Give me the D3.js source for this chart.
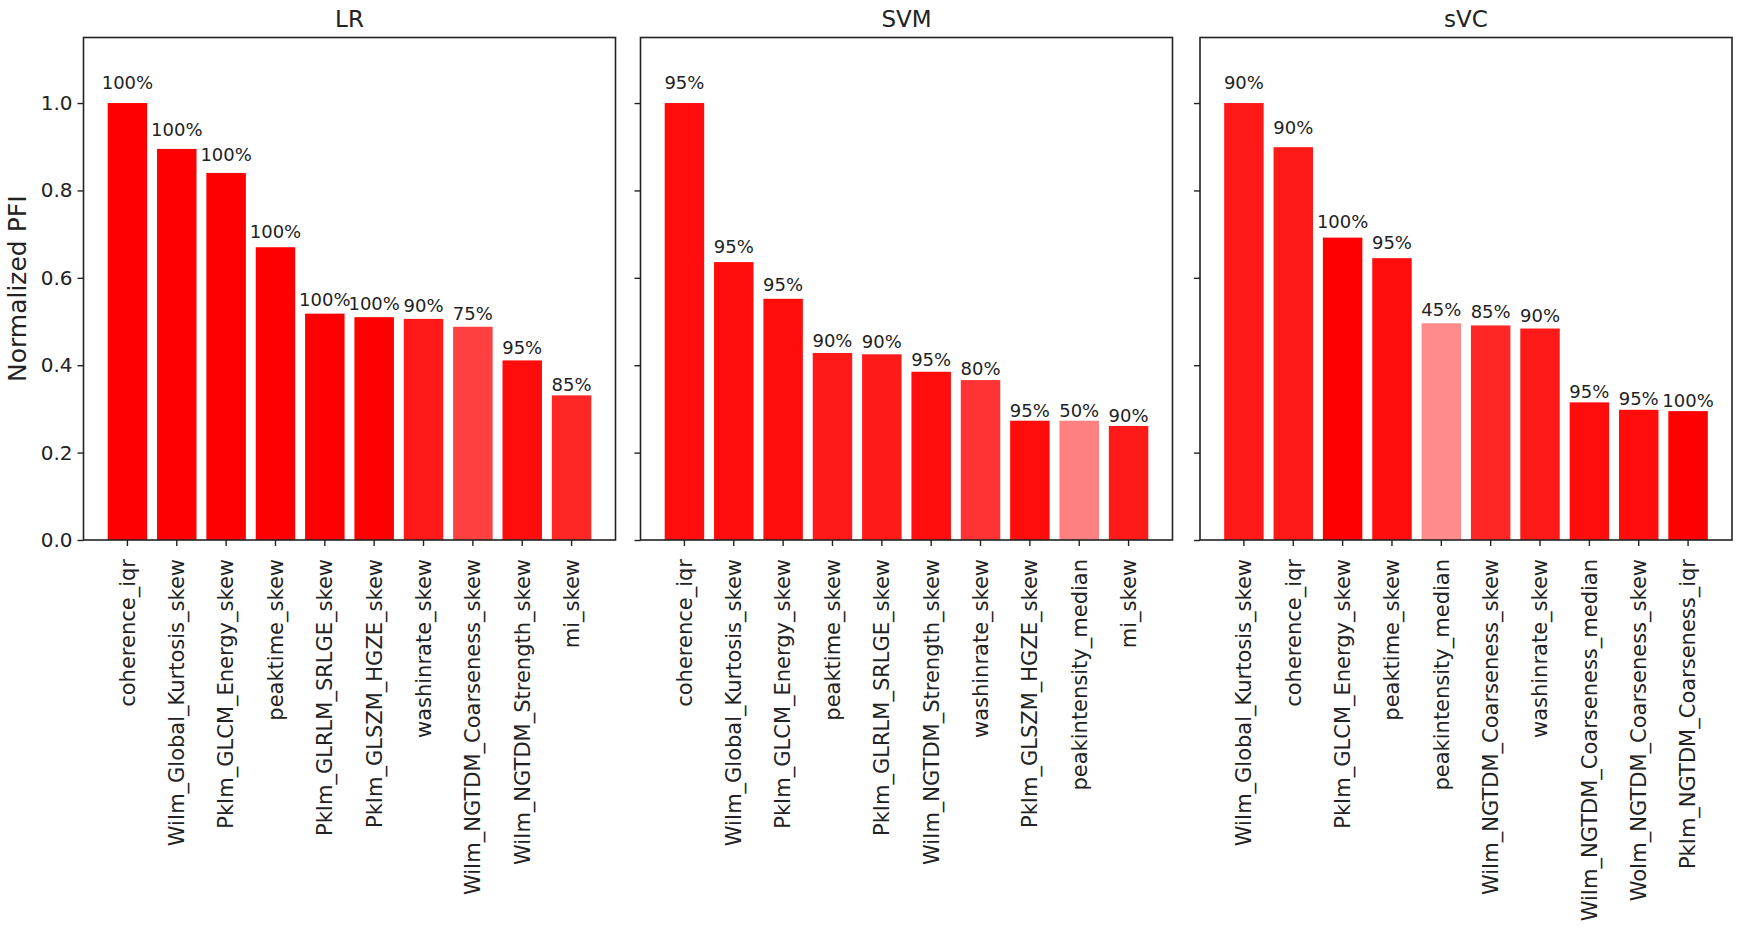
<!DOCTYPE html>
<html>
<head>
<meta charset="utf-8">
<script src="https://cdn.jsdelivr.net/npm/d3@7"></script>
<style>
	body { margin: 0; background: #fff; }
	text { font-family: "DejaVu Sans", sans-serif; fill: #222; }
</style>
</head>
<body>
<div id="chart"></div>
<script>

// chart data
var panelTitles = ["LR", "SVM", "sVC"];

var lrFeatures = ["coherence_iqr", "WiIm_Global_Kurtosis_skew", "PkIm_GLCM_Energy_skew", "peaktime_skew",
	"PkIm_GLRLM_SRLGE_skew", "PkIm_GLSZM_HGZE_skew", "washinrate_skew", "WiIm_NGTDM_Coarseness_skew",
	"WiIm_NGTDM_Strength_skew", "mi_skew"];
var lrValues = [1.0, 0.895, 0.840, 0.670, 0.518, 0.510, 0.506, 0.488, 0.411, 0.331];
var lrPercent = [100, 100, 100, 100, 100, 100, 90, 75, 95, 85];

var svmFeatures = ["coherence_iqr", "WiIm_Global_Kurtosis_skew", "PkIm_GLCM_Energy_skew", "peaktime_skew",
	"PkIm_GLRLM_SRLGE_skew", "WiIm_NGTDM_Strength_skew", "washinrate_skew", "PkIm_GLSZM_HGZE_skew",
	"peakintensity_median", "mi_skew"];
var svmValues = [1.0, 0.636, 0.552, 0.428, 0.425, 0.385, 0.366, 0.273, 0.273, 0.261];
var svmPercent = [95, 95, 95, 90, 90, 95, 80, 95, 50, 90];

var svcFeatures = ["WiIm_Global_Kurtosis_skew", "coherence_iqr", "PkIm_GLCM_Energy_skew", "peaktime_skew",
	"peakintensity_median", "WiIm_NGTDM_Coarseness_skew", "washinrate_skew", "WiIm_NGTDM_Coarseness_median",
	"WoIm_NGTDM_Coarseness_skew", "PkIm_NGTDM_Coarseness_iqr"];
var svcValues = [1.0, 0.899, 0.692, 0.645, 0.496, 0.491, 0.484, 0.315, 0.298, 0.295];
var svcPercent = [90, 90, 100, 95, 45, 85, 90, 95, 95, 100];

var yTicks = [0.0, 0.2, 0.4, 0.6, 0.8, 1.0];
var yLabel = "Normalized PFI";

var featureLists = [lrFeatures, svmFeatures, svcFeatures];
var valueLists = [lrValues, svmValues, svcValues];
var percentLists = [lrPercent, svmPercent, svcPercent];

// layout
var width = 1739, height = 946;
var panelLeft = [83.5, 640.5, 1200];
var panelWidth = 532;
var panelTop = 37.5, panelBottom = 540;

var svg = d3.select("#chart").append("svg")
	.attr("width", width)
	.attr("height", height);

var y = d3.scaleLinear()
	.domain([0, 1.15])
	.range([panelBottom, panelTop]);

// bar colour: red faded toward white by the percentage
var shade = d3.scaleLinear()
	.domain([0, 100])
	.range(["#ffffff", "#ff0000"]);

for (var p = 0; p < panelTitles.length; p++) {

	var feats = featureLists[p];
	var vals = valueLists[p];
	var pcts = percentLists[p];
	var left = panelLeft[p];

	var x = d3.scaleBand()
		.domain(feats)
		.range([left, left + panelWidth])
		.paddingInner(0.2)
		.paddingOuter(0.49);

	var g = svg.append("g");

	g.selectAll("rect.bar")
		.data(feats)
		.enter().append("rect")
		.attr("class", "bar")
		.attr("x", function(d) { return x(d); })
		.attr("width", x.bandwidth())
		.attr("y", function(d, i) { return y(vals[i]); })
		.attr("height", function(d, i) { return y(0) - y(vals[i]); })
		.attr("fill", function(d, i) { return shade(pcts[i]); });

	g.selectAll("text.pct")
		.data(feats)
		.enter().append("text")
		.attr("class", "pct")
		.attr("x", function(d) { return x(d) + x.bandwidth() / 2; })
		.attr("y", function(d, i) { return y(vals[i] * 1.033); })
		.attr("text-anchor", "middle")
		.style("font-size", "18px")
		.text(function(d, i) { return pcts[i] + "%"; });

	// y axis (labels only on the first panel)
	var yAxis = d3.axisLeft(y)
		.tickValues(yTicks)
		.tickSize(6)
		.tickPadding(5)
		.tickFormat(p == 0 ? d3.format(".1f") : function() { return ""; });

	var ya = g.append("g")
		.attr("transform", "translate(" + left + ",0)")
		.call(yAxis);
	ya.select(".domain").remove();
	ya.selectAll("line").attr("stroke", "#222").attr("stroke-width", 1.4);
	ya.selectAll("text").style("font-size", "20px").attr("fill", "#222").style("font-family", "DejaVu Sans");

	var xAxis = d3.axisBottom(x).tickSize(6);

	var xa = g.append("g")
		.attr("transform", "translate(0," + panelBottom + ")")
		.call(xAxis);
	xa.select(".domain").remove();
	xa.selectAll("line").attr("stroke", "#222").attr("stroke-width", 1.4);
	xa.selectAll("text")
		.attr("transform", "rotate(-90)")
		.attr("x", -19)
		.attr("y", 0)
		.attr("dy", "0.35em")
		.style("text-anchor", "end")
		.style("font-size", "21px")
		.style("font-family", "DejaVu Sans")
		.attr("fill", "#222");

	// frame
	g.append("rect")
		.attr("x", left)
		.attr("y", panelTop)
		.attr("width", panelWidth)
		.attr("height", panelBottom - panelTop)
		.attr("fill", "none")
		.attr("stroke", "#222")
		.attr("stroke-width", 1.6);

	g.append("text")
		.attr("x", left + panelWidth / 2)
		.attr("y", 27)
		.attr("text-anchor", "middle")
		.style("font-size", "23px")
		.text(panelTitles[p]);
}

svg.append("text")
	.attr("transform", "translate(26," + (panelTop + panelBottom) / 2 + ") rotate(-90)")
	.attr("text-anchor", "middle")
	.style("font-size", "25px")
	.text(yLabel);

</script>
</body>
</html>
